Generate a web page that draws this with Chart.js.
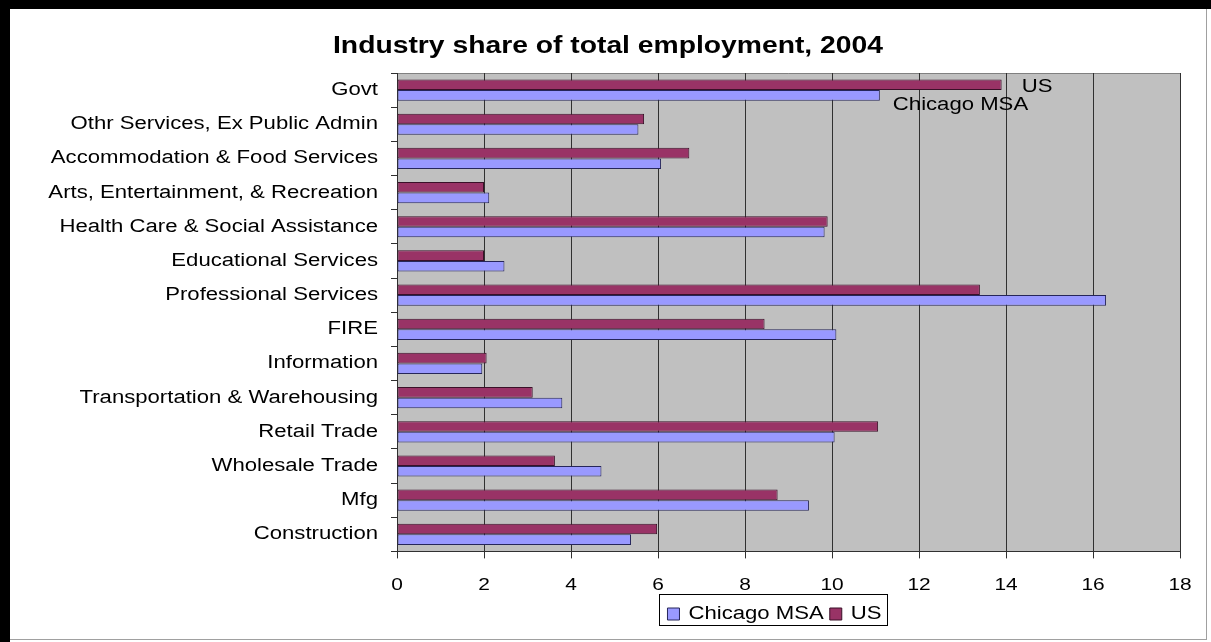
<!DOCTYPE html>
<html>
<head>
<meta charset="utf-8">
<script src="https://cdn.jsdelivr.net/npm/chart.js@4/dist/chart.umd.min.js"></script>
<style>
  html, body { margin: 0; padding: 0; background: #fff; }
</style>
</head>
<body>
<canvas id="chart" width="1211" height="642"></canvas>
<script>
var categories = [
    'Govt',
    'Othr Services, Ex Public Admin',
    'Accommodation & Food Services',
    'Arts, Entertainment, & Recreation',
    'Health Care & Social Assistance',
    'Educational Services',
    'Professional Services',
    'FIRE',
    'Information',
    'Transportation & Warehousing',
    'Retail Trade',
    'Wholesale Trade',
    'Mfg',
    'Construction'
];
var chicagoMSA = [11.1, 5.55, 6.07, 2.12, 9.83, 2.47, 16.3, 10.1, 1.96, 3.8, 10.06, 4.7, 9.47, 5.38];
var us = [13.9, 5.68, 6.72, 2.0, 9.9, 2.0, 13.4, 8.45, 2.06, 3.12, 11.06, 3.63, 8.75, 5.98];
var xTicks = [0, 2, 4, 6, 8, 10, 12, 14, 16, 18];
var titleText = 'Industry share of total employment, 2004';

var FONT = 'Liberation Sans, Arial, sans-serif';
var W = 1211, H = 642;
var STRETCH = 1.2294; // the source picture's text is widened sideways

// widen every piece of text (and its measured width) by STRETCH
function stretchText(ctx) {
    var fill = ctx.fillText, measure = ctx.measureText;
    ctx.fillText = function (text, x, y) {
        this.save();
        this.translate(x, y);
        this.scale(STRETCH, 1);
        fill.call(this, text, 0, 0);
        this.restore();
    };
    ctx.measureText = function (text) {
        var m = measure.call(this, text);
        return {
            width: m.width * STRETCH,
            actualBoundingBoxAscent: m.actualBoundingBoxAscent,
            actualBoundingBoxDescent: m.actualBoundingBoxDescent,
            actualBoundingBoxLeft: m.actualBoundingBoxLeft * STRETCH,
            actualBoundingBoxRight: m.actualBoundingBoxRight * STRETCH
        };
    };
}

// frame, title, grey plot background and the legend box
var decor = {
    id: 'decor',
    afterLayout: function (chart) {
        // Excel puts the legend a bit left of the plot centre
        chart.legend.left -= 14;
        chart.legend.right -= 14;
    },
    beforeDraw: function (chart) {
        var c = chart.ctx, a = chart.chartArea;
        c.save();
        c.fillStyle = '#fff';
        c.fillRect(0, 0, W, H);
        c.fillStyle = '#000';
        c.fillRect(0, 0, W, 9);
        c.fillRect(0, 0, 10, H);
        c.fillStyle = '#a0a0a0';
        c.fillRect(1206, 9, 1, H - 11);
        c.fillRect(10, 639, 1197, 1);
        c.fillStyle = '#c0c0c0';
        c.fillRect(a.left, a.top, a.right - a.left, a.bottom - a.top);
        c.strokeStyle = '#808080';
        c.lineWidth = 1;
        c.beginPath();
        c.moveTo(a.left, a.top + 0.5);
        c.lineTo(a.right + 0.5, a.top + 0.5);
        c.lineTo(a.right + 0.5, a.bottom);
        c.stroke();
        c.font = 'bold 23px ' + FONT;
        c.fillStyle = '#000';
        c.textAlign = 'center';
        c.textBaseline = 'middle';
        c.fillText(titleText, 608, 47);
        c.restore();
    },
    afterDraw: function (chart) {
        var lg = chart.legend, c = chart.ctx;
        if (!lg || !lg.legendHitBoxes.length) return;
        var boxes = lg.legendHitBoxes;
        var last = boxes[boxes.length - 1];
        var x0 = boxes[0].left - 8, x1 = last.left + last.width + 6;
        var y0 = boxes[0].top - 11, y1 = boxes[0].top + boxes[0].height + 2;
        c.save();
        c.strokeStyle = '#000';
        c.lineWidth = 1;
        c.strokeRect(Math.round(x0) + 0.5, Math.round(y0) + 0.5, Math.round(x1 - x0), Math.round(y1 - y0));
        c.restore();
    }
};

// series-name labels on the Govt bars
var seriesNames = {
    id: 'seriesNames',
    afterDatasetsDraw: function (chart) {
        var c = chart.ctx;
        c.save();
        c.font = '18px ' + FONT;
        c.fillStyle = '#000';
        c.textAlign = 'left';
        c.textBaseline = 'middle';
        var usBar = chart.getDatasetMeta(0).data[0];
        var chBar = chart.getDatasetMeta(1).data[0];
        c.fillText('US', usBar.x + 20, usBar.y + 2);
        c.fillText('Chicago MSA', chBar.x + 13, chBar.y + 10);
        c.restore();
    }
};

var ctx = document.getElementById('chart').getContext('2d');
stretchText(ctx);

new Chart(ctx, {
    type: 'bar',
    data: {
        labels: categories,
        datasets: [{
            label: 'US',
            data: us,
            backgroundColor: '#993366',
            borderColor: '#3a1028',
            borderWidth: 1,
            borderSkipped: false
        }, {
            label: 'Chicago MSA',
            data: chicagoMSA,
            backgroundColor: '#9999ff',
            borderColor: '#26265a',
            borderWidth: 1,
            borderSkipped: false
        }]
    },
    options: {
        indexAxis: 'y',
        responsive: false,
        animation: false,
        datasets: { bar: { categoryPercentage: 0.62, barPercentage: 1.0 } },
        layout: { padding: { top: 73, left: 10, right: 31, bottom: 9 } },
        plugins: {
            title: { display: false },
            legend: {
                position: 'bottom',
                fullSize: false,
                reverse: true,
                labels: {
                    color: '#000',
                    font: { family: FONT, size: 18 },
                    boxWidth: 12,
                    boxHeight: 12,
                    padding: 6,
                    useBorderRadius: false
                }
            },
            tooltip: { enabled: false }
        },
        scales: {
            x: {
                min: 0,
                max: 18,
                afterBuildTicks: function (scale) {
                    scale.ticks = xTicks.map(function (v) { return { value: v }; });
                },
                afterFit: function (scale) { scale.height = 47.6; },
                grid: {
                    color: '#303030',
                    lineWidth: 1,
                    tickLength: 7,
                    tickColor: '#303030'
                },
                border: { color: '#303030', width: 1 },
                ticks: {
                    color: '#000',
                    font: { family: FONT, size: 17 },
                    padding: 17,
                    maxRotation: 0
                }
            },
            y: {
                afterFit: function (scale) { scale.width = 387; },
                grid: {
                    drawOnChartArea: false,
                    offset: true,
                    tickLength: 6,
                    tickColor: '#303030'
                },
                border: { color: '#303030', width: 1 },
                ticks: {
                    color: '#000',
                    font: { family: FONT, size: 18 },
                    padding: 13,
                    autoSkip: false
                }
            }
        }
    },
    plugins: [decor, seriesNames]
});
</script>
</body>
</html>
